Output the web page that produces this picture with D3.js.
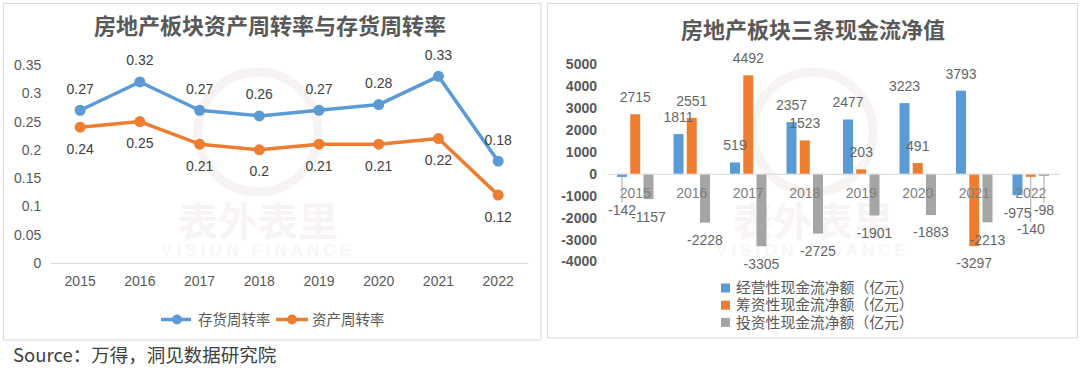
<!DOCTYPE html>
<html><head><meta charset="utf-8">
<script src="https://cdn.jsdelivr.net/npm/d3@7"></script>
<style>
html,body{margin:0;padding:0;background:#fff;}
svg{display:block;}
</style></head>
<body>
<svg id="chart" width="1080" height="370"></svg>
<script>
// ---------- data ----------
const years = ["2015","2016","2017","2018","2019","2020","2021","2022"];
const inventoryTurnover = [0.27,0.32,0.27,0.26,0.27,0.28,0.33,0.18];
const assetTurnover     = [0.24,0.25,0.21,0.20,0.21,0.21,0.22,0.12];
const leftTicks = [0,0.05,0.1,0.15,0.2,0.25,0.3,0.35];
const lineSeriesNames = ["存货周转率","资产周转率"];

const operatingCF = [-142,1811,519,2357,2477,3223,3793,-975];
const financingCF = [2715,2551,4492,1523,203,491,-3297,-140];
const investingCF = [-1157,-2228,-3305,-2725,-1901,-1883,-2213,-98];
const rightTicks = [-4000,-3000,-2000,-1000,0,1000,2000,3000,4000,5000];
const barSeriesNames = ["经营性现金流净额（亿元）","筹资性现金流净额（亿元）","投资性现金流净额（亿元）"];

const leftTitle = "房地产板块资产周转率与存货周转率";
const rightTitle = "房地产板块三条现金流净值";
const sourceText = "Source：万得，洞见数据研究院";

// ---------- styles ----------
const BLUE="#5B9BD5", ORANGE="#ED7D31", GRAY="#A5A5A5";
const CJK="'Noto Sans CJK SC','Noto Sans',sans-serif";
const NUM="'Liberation Sans',Arial,sans-serif";

const svg = d3.select("#chart");

// panels
svg.append("rect").attr("x",3.5).attr("y",3.5).attr("width",537.5).attr("height",336.5)
  .attr("fill","#fff").attr("stroke","#d9d9d9");
svg.append("rect").attr("x",547.5).attr("y",3.5).attr("width",530).attr("height",334.5)
  .attr("fill","#fff").attr("stroke","#d9d9d9");

// watermark
function watermark(cx){
  const g = svg.append("g").attr("opacity",0.35);
  g.append("circle").attr("cx",cx).attr("cy",132).attr("r",60)
    .attr("fill","none").attr("stroke","#eadede").attr("stroke-width",9);
  g.append("text").attr("x",cx).attr("y",236).attr("text-anchor","middle")
    .attr("font-family",CJK).attr("font-weight","bold").attr("font-size",40)
    .attr("fill","#ece2e2").text("表外表里");
  g.append("text").attr("x",cx).attr("y",256).attr("text-anchor","middle")
    .attr("font-family",NUM).attr("font-weight","bold").attr("font-size",17)
    .attr("letter-spacing",4).attr("fill","#eee6e6").text("VISION FINANCE");
}
watermark(258);
watermark(813);

// ---------- left line chart ----------
const xL = d3.scaleBand().domain(years).range([50.3,528]);
const yL = d3.scaleLinear().domain([0,0.35]).range([263,65]);

svg.append("text").attr("x",270).attr("y",26).attr("dy","0.35em").attr("text-anchor","middle")
  .attr("font-family",CJK).attr("font-weight","bold").attr("font-size",22).attr("fill","#595959")
  .text(leftTitle);

const yAxisL = svg.append("g").attr("transform","translate(50.3,0)")
  .call(d3.axisLeft(yL).tickValues(leftTicks).tickSize(0).tickPadding(9).tickFormat(d=>String(d)));
yAxisL.select(".domain").remove();
yAxisL.selectAll("text").attr("font-family",NUM).attr("font-size",14).attr("fill","#595959");

const xAxisL = svg.append("g").attr("transform",`translate(0,${yL(0)})`)
  .call(d3.axisBottom(xL).tickSize(0).tickPadding(13));
xAxisL.select(".domain").attr("stroke","#d9d9d9");
xAxisL.selectAll("text").attr("font-family",NUM).attr("font-size",14).attr("fill","#595959");

const lineSeries = [
  {name:lineSeriesNames[0], values:inventoryTurnover, color:BLUE, dir:-1},
  {name:lineSeriesNames[1], values:assetTurnover, color:ORANGE, dir:1}
];
const lineGen = d3.line().x((d,i)=>xL(years[i])+xL.bandwidth()/2).y(d=>yL(d));
lineSeries.forEach(s=>{
  svg.append("path").attr("d",lineGen(s.values)).attr("fill","none")
    .attr("stroke",s.color).attr("stroke-width",3.5).attr("stroke-linejoin","round");
  svg.append("g").selectAll("circle").data(s.values).join("circle")
    .attr("cx",(d,i)=>xL(years[i])+xL.bandwidth()/2).attr("cy",d=>yL(d))
    .attr("r",5.5).attr("fill",s.color);
  svg.append("g").selectAll("text").data(s.values).join("text")
    .attr("x",(d,i)=>xL(years[i])+xL.bandwidth()/2)
    .attr("y",d=>yL(d)+s.dir*21.5).attr("dy","0.35em").attr("text-anchor","middle")
    .attr("font-family",NUM).attr("font-size",14).attr("fill","#404040")
    .text(d=>String(d));
});

// left legend
const legL = svg.append("g");
[[161,191,177,198],[276,308,292,312]].forEach((p,i)=>{
  const s = lineSeries[i];
  legL.append("line").attr("x1",p[0]).attr("x2",p[1]).attr("y1",319.5).attr("y2",319.5)
    .attr("stroke",s.color).attr("stroke-width",3.5);
  legL.append("circle").attr("cx",p[2]).attr("cy",319.5).attr("r",5).attr("fill",s.color);
  legL.append("text").attr("x",p[3]).attr("y",319.5).attr("dy","0.35em")
    .attr("font-family",CJK).attr("font-size",14.5).attr("fill","#595959").text(s.name);
});

// ---------- right bar chart ----------
const x0 = d3.scaleBand().domain(years).range([607,1059]);
const barSeries = [
  {name:barSeriesNames[0], values:operatingCF, color:BLUE},
  {name:barSeriesNames[1], values:financingCF, color:ORANGE},
  {name:barSeriesNames[2], values:investingCF, color:GRAY}
];
const x1 = d3.scaleBand().domain(barSeries.map(s=>s.name))
  .range([x0.bandwidth()*0.177, x0.bandwidth()*0.823]).paddingInner(0.245);
const yR = d3.scaleLinear().domain([-4000,5000]).range([261.5,64.2]);

svg.append("text").attr("x",813).attr("y",30).attr("dy","0.35em").attr("text-anchor","middle")
  .attr("font-family",CJK).attr("font-weight","bold").attr("font-size",22).attr("fill","#595959")
  .text(rightTitle);

const yAxisR = svg.append("g").attr("transform","translate(607,0)")
  .call(d3.axisLeft(yR).tickValues(rightTicks).tickSize(0).tickPadding(10).tickFormat(d=>String(d)));
yAxisR.select(".domain").remove();
yAxisR.selectAll("text").attr("font-family",NUM).attr("font-size",14)
  .attr("font-weight","bold").attr("fill","#595959");

// bars
barSeries.forEach(s=>{
  svg.append("g").selectAll("rect").data(s.values).join("rect")
    .attr("x",(d,i)=>x0(years[i])+x1(s.name))
    .attr("width",x1.bandwidth())
    .attr("y",d=>Math.min(yR(d),yR(0)))
    .attr("height",d=>Math.max(1,Math.abs(yR(d)-yR(0))))
    .attr("fill",s.color);
});

const xAxisR = svg.append("g").attr("transform",`translate(0,${yR(0)})`)
  .call(d3.axisBottom(x0).tickSize(0).tickPadding(14));
xAxisR.select(".domain").attr("stroke","#d9d9d9");
xAxisR.selectAll("text").attr("font-family",NUM).attr("font-size",14).attr("fill","#7f7f7f");

// data labels with simple collision avoidance
const catLabelY = yR(0) + 19.3;
const labelG = svg.append("g");
const leaderG = svg.insert("g", () => labelG.node());
years.forEach((yr,i)=>{
  const placed = [];
  barSeries.forEach(s=>{
    const v = s.values[i];
    const cx = x0(yr)+x1(s.name)+x1.bandwidth()/2;
    const t = labelG.append("text").attr("x",cx).attr("text-anchor","middle").attr("dy","0.35em")
      .attr("font-family",NUM).attr("font-size",14).attr("fill","#666").text(String(v));
    const w = t.node().getComputedTextLength();
    const natural = v>=0 ? yR(v)-17 : yR(v)+17.5;
    let cy = v>=0 ? natural : Math.max(natural, catLabelY+16.5);
    let moved = true;
    while(moved){
      moved = false;
      for(const p of placed){
        const ov = Math.min(cx+w/2,p.cx+p.w/2) - Math.max(cx-w/2,p.cx-p.w/2);
        if(ov>8 && Math.abs(cy-p.cy)<14){ cy = v>=0 ? p.cy-16.5 : p.cy+16.5; moved = true; }
      }
    }
    t.attr("y",cy);
    placed.push({cx,cy,w});
    if(Math.abs(cy-natural)>5){
      leaderG.append("line").attr("x1",cx).attr("x2",cx)
        .attr("y1",yR(v)).attr("y2",v>=0?cy+7:cy-7)
        .attr("stroke","#a6a6a6").attr("stroke-width",1);
    }
  });
});

// right legend
const legR = svg.append("g");
barSeries.forEach((s,i)=>{
  const yy = 288 + i*17.2;
  legR.append("rect").attr("x",721).attr("y",yy-4.5).attr("width",9).attr("height",9).attr("fill",s.color);
  legR.append("text").attr("x",736).attr("y",yy).attr("dy","0.35em")
    .attr("font-family",CJK).attr("font-size",14.8).attr("fill","#595959").text(s.name);
});

// source
svg.append("text").attr("x",13).attr("y",356).attr("dy","0.35em")
  .attr("font-family",CJK).attr("font-size",18.5).attr("fill","#404040").text(sourceText);
</script>
</body></html>
